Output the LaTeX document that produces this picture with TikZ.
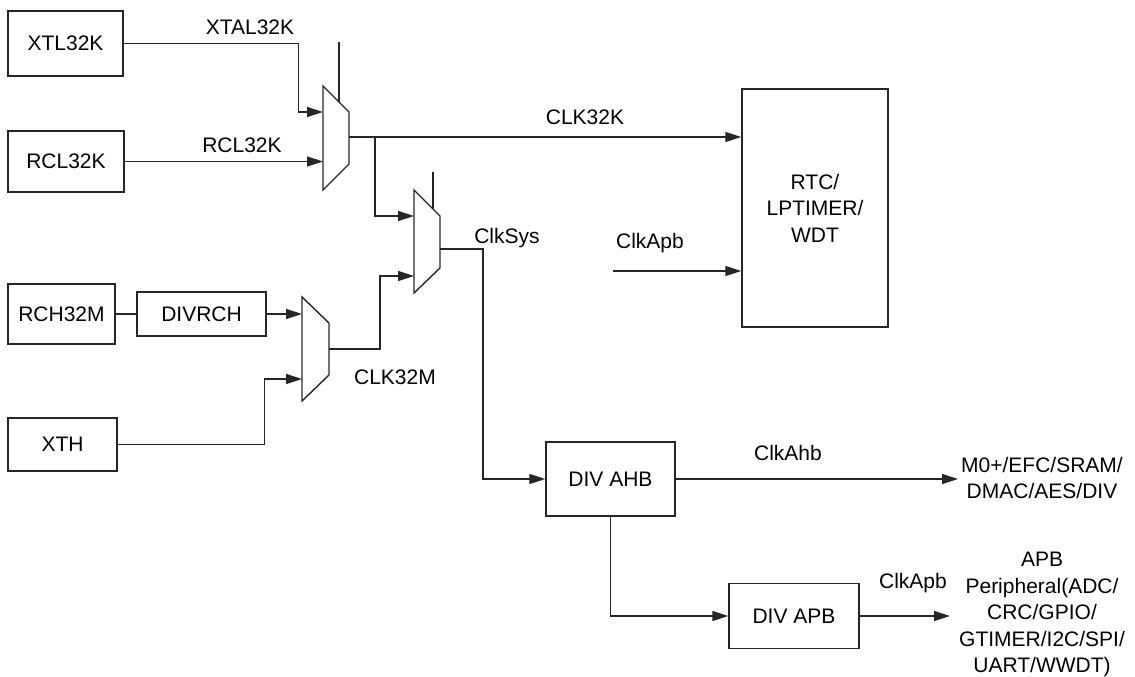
\documentclass[tikz,border=0pt]{standalone}
\usepackage{fontspec}
\setmainfont{Liberation Sans}
\usetikzlibrary{arrows.meta}
\begin{document}
\begin{tikzpicture}[x=1pt,y=-1pt,
  font=\fontsize{21}{26.5}\selectfont,
  line width=1.4pt, draw=black!85,
  blk/.style={draw=black!85, rectangle, inner sep=0pt, align=center},
  lbl/.style={inner sep=0pt, align=center},
  arr/.style={-{Triangle[length=16pt,width=10pt]}},
  mux/.style={draw=black!85, line join=miter}]
\useasboundingbox (0,0) rectangle (1135,677);
% boxes
\node[blk, minimum width=115pt, minimum height=65pt] (xtl) at (65.5,43.5) {XTL32K};
\node[blk, minimum width=116pt, minimum height=61pt] (rcl) at (66,161.5) {RCL32K};
\node[blk, minimum width=107pt, minimum height=60pt] (rch) at (61.5,314) {RCH32M};
\node[blk, minimum width=129pt, minimum height=44pt] (divrch) at (201.5,314) {DIVRCH};
\node[blk, minimum width=109pt, minimum height=53pt] (xth) at (62.5,444.5) {XTH};
\node[blk, minimum width=146pt, minimum height=238pt] (rtc) at (815,208) {RTC/\\LPTIMER/\\WDT};
\node[blk, minimum width=129pt, minimum height=74pt] (ahb) at (610.5,479) {DIV AHB};
\node[blk, minimum width=130pt, minimum height=65pt] (apb) at (794,616) {DIV APB};
% muxes
\draw[mux] (323,86) -- (349,112) -- (349,164) -- (323,190) -- cycle;
\coordinate (m1a) at (323,112); \coordinate (m1b) at (323,161.5);
\coordinate (m1o) at (349,137); \coordinate (m1s) at (339,42); \coordinate (m1t) at (339,102);
\draw[mux] (414,190) -- (440,216) -- (440,268) -- (414,293) -- cycle;
\coordinate (m2a) at (414,216); \coordinate (m2b) at (414,276);
\coordinate (m2o) at (440,249); \coordinate (m2s) at (433,172); \coordinate (m2t) at (433,209);
\draw[mux] (302,297) -- (329,323) -- (329,375) -- (302,401) -- cycle;
\coordinate (m3a) at (302,314); \coordinate (m3b) at (302,379);
\coordinate (m3o) at (329,349);
% select lines
\draw (m1s) -- (m1t);
\draw (m2s) -- (m2t);
% connectors
\draw[arr] (xtl.east) -- ++(175,0) |- (m1a);
\draw[arr] (rcl.east) -- (m1b);
\draw[arr] (m1o) -- (m1o -| rtc.west);
\coordinate (br1) at (375,137);
\draw[arr] (br1) |- (m2a);
\draw (rch.east) -- (divrch.west);
\draw[arr] (divrch.east) -- (m3a);
\draw[arr] (xth.east) -- ++(147,0) |- (m3b);
\draw[arr] (m3o) -- ++(51,0) |- (m2b);
\draw[arr] (m2o) -- ++(43,0) |- (ahb.west);
\coordinate (capb) at (613,271);
\draw[arr] (capb) -- (capb -| rtc.west);
\coordinate (ahbout) at (958,479);
\draw[arr] (ahb.east) -- (ahbout);
\draw[arr] (ahb.south) |- (apb.west);
\coordinate (apbout) at (950,616);
\draw[arr] (apb.east) -- (apbout);
% labels
\node[lbl] (lx) at (250,27) {XTAL32K};
\node[lbl] (lr) at (242,145) {RCL32K};
\node[lbl] (lc) at (585,117) {CLK32K};
\node[lbl] (ls) at (507,238) {ClkSys};
\node[lbl] (lm) at (395,377) {CLK32M};
\node[lbl] (la1) at (650,243) {ClkApb};
\node[lbl] (lh) at (788,453) {ClkAhb};
\node[lbl] (la2) at (913,583) {ClkApb};
\node[lbl] (tahb) at (1042,478) {M0+/EFC/SRAM/\\DMAC/AES/DIV};
\node[lbl] (tapb) at (1042,614.5) {APB\\Peripheral(ADC/\\CRC/GPIO/\\GTIMER/I2C/SPI/\\UART/WWDT)};
\end{tikzpicture}
\end{document}
